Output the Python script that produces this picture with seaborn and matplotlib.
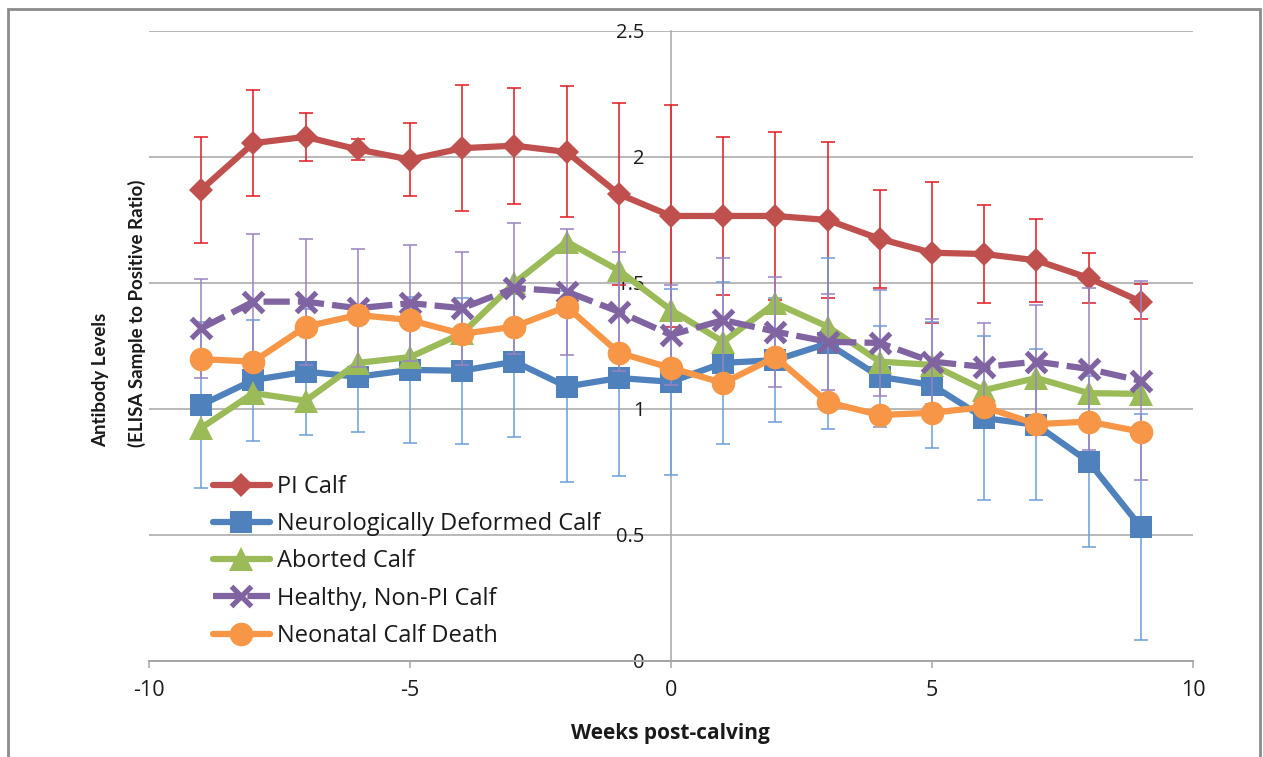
import matplotlib
matplotlib.use("Agg")
import matplotlib.pyplot as plt
import matplotlib.patches as mpatches
import seaborn as sns
import numpy as np
import pandas as pd

# ---------------- data ----------------
weeks = [-9, -8, -7, -6, -5, -4, -3, -2, -1, 0, 1, 2, 3, 4, 5, 6, 7, 8, 9]

series_names = ["PI Calf", "Neurologically Deformed Calf", "Aborted Calf",
                "Healthy, Non-PI Calf", "Neonatal Calf Death"]

pi_calf = [1.87, 2.055, 2.08, 2.03, 1.99, 2.035, 2.045, 2.02, 1.853, 1.766,
           1.766, 1.766, 1.75, 1.675, 1.62, 1.615, 1.59, 1.52, 1.426]
pi_calf_err = [0.21, 0.21, 0.095, 0.04, 0.145, 0.25, 0.23, 0.26, 0.36, 0.44,
               0.315, 0.335, 0.31, 0.195, 0.28, 0.195, 0.165, 0.1, 0.07]

neuro_calf = [1.016, 1.115, 1.148, 1.128, 1.155, 1.152, 1.188, 1.089, 1.123, 1.108,
              1.183, 1.194, 1.26, 1.128, 1.095, 0.964, 0.937, 0.791, 0.532]
neuro_calf_err = [0.33, 0.24, 0.25, 0.22, 0.29, 0.29, 0.30, 0.38, 0.39, 0.37,
                  0.32, 0.245, 0.34, 0.2, 0.25, 0.325, 0.30, 0.34, 0.45]

aborted_calf = [0.925, 1.063, 1.033, 1.183, 1.206, 1.30, 1.50, 1.664, 1.55, 1.393,
                1.267, 1.42, 1.327, 1.188, 1.175, 1.075, 1.123, 1.063, 1.06]

healthy_calf = [1.32, 1.426, 1.426, 1.40, 1.42, 1.40, 1.48, 1.466, 1.386, 1.294,
                1.353, 1.307, 1.267, 1.262, 1.188, 1.167, 1.188, 1.159, 1.112]
healthy_calf_err = [0.195, 0.27, 0.25, 0.235, 0.23, 0.225, 0.26, 0.25, 0.237, 0.2,
                    0.245, 0.218, 0.19, 0.21, 0.17, 0.175, 0.225, 0.32, 0.395]

neonatal_calf = [1.198, 1.188, 1.327, 1.373, 1.353, 1.298, 1.327, 1.406, 1.223, 1.163,
                 1.103, 1.206, 1.027, 0.976, 0.985, 1.008, 0.94, 0.95, 0.91]

x_ticks = [-10, -5, 0, 5, 10]
x_tick_labels = ["-10", "-5", "0", "5", "10"]
y_ticks = [0, 0.5, 1, 1.5, 2, 2.5]
y_tick_labels = ["0", "0.5", "1", "1.5", "2", "2.5"]

x_title = "Weeks post-calving"
y_title_1 = "Antibody Levels"
y_title_2 = "(ELISA Sample to Positive Ratio)"

# ---------------- style ----------------
sns.set_theme(style="white")
plt.rcParams["font.family"] = ["Open Sans", "DejaVu Sans"]
plt.rcParams["axes.unicode_minus"] = False

W, H = 1263, 757
fig = plt.figure(figsize=(W / 100, H / 100), dpi=100)
ax = fig.add_axes([149 / W, 1 - 661 / H, (1193 - 149) / W, (661 - 31) / H])

grey = "#A6A6A6"
txt = "#1a1a1a"

styles = [
    dict(vals=pi_calf, err=pi_calf_err, color="#C0504D", ecolor="#E0191F",
         marker="D", ms=12.5, mew=0, ls="-"),
    dict(vals=neuro_calf, err=neuro_calf_err, color="#4F81BD", ecolor="#6C9EDB",
         marker="s", ms=16, mew=0, ls="-"),
    dict(vals=aborted_calf, err=None, color="#9BBB59", ecolor=None,
         marker="^", ms=17, mew=0, ls="-"),
    dict(vals=healthy_calf, err=healthy_calf_err, color="#8064A2", ecolor="#9A83C2",
         marker="x", ms=14, mew=3.8, ls=(0, (4.2, 1.3))),
    dict(vals=neonatal_calf, err=None, color="#F79646", ecolor=None,
         marker="o", ms=17, mew=0, ls="-"),
]

# axes frame first (moving a spine resets tick settings)
for s in ["top", "right"]:
    ax.spines[s].set_visible(False)
ax.spines["left"].set_position(("data", 0))
ax.spines["left"].set_color(grey)
ax.spines["left"].set_linewidth(1.1)
ax.spines["bottom"].set_color(grey)
ax.spines["bottom"].set_linewidth(1.4)

for i, (name, st) in enumerate(zip(series_names, styles)):
    z = 3 + 2 * i
    if st["err"] is not None:
        ax.errorbar(weeks, st["vals"], yerr=st["err"], fmt="none",
                    ecolor=st["ecolor"], elinewidth=1.1, capsize=4.8,
                    capthick=1.1, zorder=z)
    df = pd.DataFrame({"week": weeks, "value": st["vals"]})
    sns.lineplot(data=df, x="week", y="value", ax=ax, color=st["color"],
                 marker=st["marker"], markersize=st["ms"],
                 markeredgewidth=st["mew"], markeredgecolor=st["color"],
                 markerfacecolor=st["color"], linewidth=4.5,
                 linestyle=st["ls"], label=name, errorbar=None,
                 zorder=z + 1)

# ---------------- axes ----------------
ax.set_xlim(-10, 10)
ax.set_ylim(0, 2.5)
ax.set_xticks(x_ticks)
ax.set_xticklabels(x_tick_labels)
ax.set_yticks(y_ticks)
ax.set_yticklabels(y_tick_labels)
ax.set_xlabel("")
ax.set_ylabel("")

ax.yaxis.grid(True, color=grey, linewidth=1.1, zorder=0)
ax.xaxis.grid(False)
ax.set_axisbelow(True)

ax.tick_params(axis="x", direction="out", length=5, width=1.1, color=grey,
               pad=9, bottom=True, labelsize=15.5, labelcolor=txt)
ax.tick_params(axis="y", length=0, pad=19, left=True, labelsize=14.5,
               labelcolor=txt)

# axis titles
fig.text(670 / W, 1 - 733 / H, x_title, ha="center", va="center",
         fontsize=15, fontweight="bold", color=txt)
fig.text(101 / W, 1 - 447 / H, y_title_1, rotation=90, ha="center", va="bottom",
         fontsize=13.5, fontweight="bold", color=txt, family=["Lato", "DejaVu Sans"])
fig.text(137 / W, 1 - 447 / H, y_title_2, rotation=90, ha="center", va="bottom",
         fontsize=13.5, fontweight="bold", color=txt, family=["Lato", "DejaVu Sans"])

# legend
leg = ax.legend(loc="upper left", bbox_to_anchor=(213 / W, 1 - 475 / H),
                bbox_transform=fig.transFigure, frameon=False, fontsize=17,
                handlelength=2.4, handletextpad=0.3, labelspacing=0.56,
                borderpad=0, borderaxespad=0)
for t in leg.get_texts():
    t.set_color(txt)

# chart area border
fig.patches.append(mpatches.Rectangle((8 / W, -0.02), (1260 - 8) / W, 1 - 9 / H + 0.02,
                                      transform=fig.transFigure, fill=False,
                                      edgecolor="#8C8C8C", linewidth=2.0))

fig.savefig("out.png", dpi=100)
